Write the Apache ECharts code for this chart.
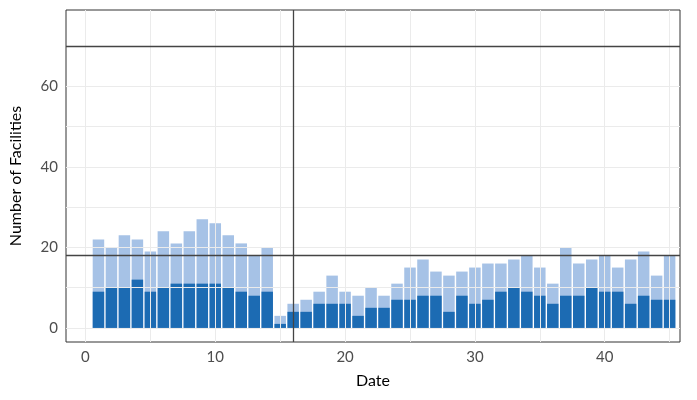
<!DOCTYPE html>
<html><head><meta charset="utf-8">
<script src="https://cdn.jsdelivr.net/npm/echarts@6/dist/echarts.min.js"></script>
<style>html,body{margin:0;background:#fff}#c{width:697px;height:400px}</style>
</head><body><div id="c"></div>
<script>
const dates = Array.from({length:45},(_, i)=>i+1);
const totalFacilities = [22,20,23,22,19,24,21,24,27,26,23,21,18,20,3,6,7,9,13,9,8,10,8,11,15,17,14,13,14,15,16,16,17,18,15,11,20,16,17,18,15,17,19,13,18];
const subsetFacilities = [9,10,10,12,9,10,11,11,11,11,10,9,8,9,1,4,4,6,6,6,3,5,5,7,7,8,8,4,8,6,7,9,10,9,8,6,8,8,10,9,9,6,8,7,7];
const xTicks = [0,10,20,30,40];
const yTicks = [0,20,40,60];
const xGrid = [0,5,10,15,20,25,30,35,40,45];
const yGrid = [0,10,20,30,40,50,60,70];
const hLines = [70,18];
const vLines = [16];

const chart = echarts.init(document.getElementById('c'));
const font = 'Lato';
const gridStyle = {color:'#ebebeb', width:1, type:'solid'};
chart.setOption({
  animation:false,
  grid:{left:65,right:17,top:10,bottom:58,show:true,borderColor:'#333',borderWidth:1},
  xAxis:{type:'value',min:-1.5,max:45.8,name:'Date',nameLocation:'middle',nameGap:31,
    nameTextStyle:{fontFamily:font,fontSize:16,color:'#000'},
    axisLine:{show:false},splitLine:{show:false},
    axisTick:{show:true,customValues:xTicks,length:4,lineStyle:{color:'#333'}},
    axisLabel:{customValues:xTicks,fontFamily:font,fontSize:15,color:'#4d4d4d',margin:8}},
  yAxis:{type:'value',min:-3.5,max:79,name:'Number of Facilities',nameLocation:'middle',nameGap:42,
    nameTextStyle:{fontFamily:font,fontSize:16,color:'#000'},
    axisLine:{show:false},splitLine:{show:false},
    axisTick:{show:true,customValues:yTicks,length:4,lineStyle:{color:'#333'}},
    axisLabel:{customValues:yTicks,fontFamily:font,fontSize:15,color:'#4d4d4d',margin:8}},
  series:[
    {type:'line',data:[],silent:true,z:0,
      markLine:{symbol:'none',silent:true,label:{show:false},animation:false,
        lineStyle:gridStyle,
        data:[...xGrid.map(v=>({xAxis:v})),...yGrid.map(v=>({yAxis:v}))]}},
    {type:'bar',data:dates.map((d,i)=>[d,totalFacilities[i]]),barWidth:11.5,barGap:'-100%',
      itemStyle:{color:'#a6c2e6'},z:2},
    {type:'bar',data:dates.map((d,i)=>[d,subsetFacilities[i]]),barWidth:11.5,barGap:'-100%',
      itemStyle:{color:'#1c6bb3'},z:3,
      markLine:{symbol:'none',silent:true,label:{show:false},
        lineStyle:{color:'#444',width:1.3,type:'solid'},
        data:[...hLines.map(v=>({yAxis:v})),...vLines.map(v=>({xAxis:v}))]}}
  ]
});
</script></body></html>
